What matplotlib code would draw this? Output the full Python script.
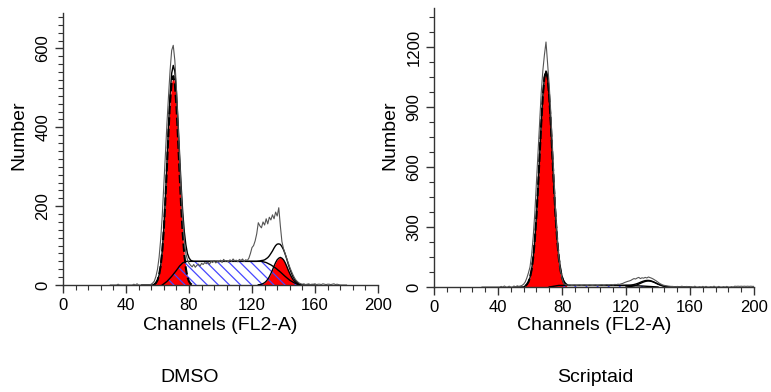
import numpy as np
import matplotlib
matplotlib.use("Agg")
import matplotlib.pyplot as plt
from matplotlib.ticker import MultipleLocator

plt.rcParams['font.family'] = ['Liberation Sans', 'DejaVu Sans']
plt.rcParams['hatch.linewidth'] = 0.9

# ---- DMSO data (counts per channel) ----
dmso_raw_start = 30
dmso_raw = [0, 0, 0, 0, 0, 2, 0, 0, 0, 0,
            0, 0, 0, 0, 0, 2, 0, 3, 0, 0,
            0, 0, 0, 0, 0, 0, 2, 5, 10, 22,
            40, 70, 115, 175, 250, 330, 410, 480, 545, 595,
            608, 570, 500, 415, 325, 240, 170, 115, 80, 64,
            55, 50, 46, 52, 45, 50, 53, 48, 55, 52,
            57, 54, 58, 52, 60, 57, 62, 56, 60, 58,
            63, 57, 65, 60, 62, 58, 64, 60, 66, 61,
            63, 59, 65, 62, 66, 60, 64, 62, 68, 80,
            95, 100, 112, 130, 158, 150, 145, 160, 152, 168,
            155, 172, 165, 178, 168, 185, 175, 196, 150, 110,
            92, 80, 68, 56, 45, 35, 26, 18, 12, 8,
            5, 3, 2, 3, 1, 2, 3, 1, 2, 2,
            3, 1, 2, 2, 1, 3, 2, 1, 2, 2,
            1, 2, 3, 1, 2, 1, 0, 0, 0, 0, 0]

dmso_g1_start = 58
dmso_g1 = [2, 5, 12, 25, 48, 85, 140, 215, 300, 390, 465, 515, 530,
           510, 455, 375, 285, 200, 130, 78, 42, 20, 9, 3, 1]

dmso_s_ch = [63, 66, 69, 72, 74, 76, 78, 126, 129, 132, 135, 138, 141, 144, 147, 150]
dmso_s = [0, 9, 22, 37, 48, 56, 60, 60, 57, 51, 43, 33, 22, 12, 5, 0]

dmso_g2_start = 124
dmso_g2 = [0.5, 1, 2, 3.6, 5.8, 9.5, 14.4, 21, 29, 38, 48, 57, 64, 68, 70,
           68, 64, 57, 48, 38, 29, 21, 14, 9.5, 5.8, 3.6, 2, 1, 0.5]

# ---- Scriptaid data ----
scr_raw_start = 30
scr_raw = [0, 0, 0, 0, 0, 0, 0, 0, 0, 0,
           0, 0, 3, 0, 5, 0, 0, 4, 0, 0,
           5, 0, 6, 3, 5, 8, 14, 25, 45, 70,
           100, 160, 250, 370, 520, 680, 830, 970, 1080, 1160,
           1225, 1120, 1010, 870, 700, 540, 380, 250, 150, 85,
           45, 18, 12, 10, 9, 10, 8, 9, 10, 8,
           9, 10, 8, 9, 10, 9, 8, 10, 9, 8,
           9, 10, 8, 9, 10, 11, 9, 10, 12, 10,
           11, 12, 10, 13, 12, 14, 13, 16, 18, 22,
           25, 28, 30, 33, 38, 42, 40, 45, 48, 42,
           46, 44, 48, 45, 50, 47, 44, 40, 35, 30,
           24, 18, 14, 10, 8, 6, 5, 4, 3, 3,
           2, 0, 3, 0, 2, 4, 0, 0, 3, 0,
           0, 2, 0, 4, 0, 0, 2, 0, 3, 0,
           3, 0, 0, 2, 0, 4, 0, 0, 3, 0,
           0, 2, 0, 3, 0, 0, 2, 0, 4, 3,
           4, 3, 4, 3, 4, 3, 4, 3, 4, 3, 3]

scr_g1_start = 57
scr_g1 = [5, 12, 25, 47, 86, 146, 234, 351, 494, 655, 815, 953, 1047, 1080,
          1047, 953, 815, 655, 494, 351, 234, 146, 86, 47, 25, 12, 5]

scr_s_ch = [72, 78, 120, 130, 140]
scr_s = [0, 8, 8, 5, 0]

scr_g2_start = 120
scr_g2 = [0.6, 1.0, 1.7, 2.7, 4.1, 5.9, 8.3, 11.2, 14.5, 18.2, 21.8, 25.1, 27.7, 29.4, 30,
          29.4, 27.7, 25.1, 21.8, 18.2, 14.5, 11.2, 8.3, 5.9, 4.1, 2.7, 1.7, 1.0, 0.6]

panels = [
    dict(name="DMSO", name_x=190, raw=(dmso_raw_start, dmso_raw), g1=(dmso_g1_start, dmso_g1),
         s=(dmso_s_ch, dmso_s), g2=(dmso_g2_start, dmso_g2), g2_red=True,
         ymax=690, major=200, minor=20, rect=[63, 13, 378, 285]),
    dict(name="Scriptaid", name_x=595, raw=(scr_raw_start, scr_raw), g1=(scr_g1_start, scr_g1),
         s=(scr_s_ch, scr_s), g2=(scr_g2_start, scr_g2), g2_red=False,
         ymax=1395, major=300, minor=75, rect=[434, 8, 754, 287]),
]

W, H = 771, 392
fig = plt.figure(figsize=(W / 100, H / 100), dpi=100)

grid = np.arange(0, 201)

for p in panels:
    x0, y0, x1, y1 = p["rect"]
    ax = fig.add_axes([x0 / W, 1 - y1 / H, (x1 - x0) / W, (y1 - y0) / H])

    rs, rv = p["raw"]
    raw_x = np.arange(rs, rs + len(rv))
    gs, gv = p["g1"]
    g1_x = np.arange(gs, gs + len(gv))
    g2s, g2v = p["g2"]
    g2_x = np.arange(g2s, g2s + len(g2v))
    s_x, s_v = p["s"]

    g1_full = np.interp(grid, g1_x, gv, left=0, right=0)
    s_full = np.interp(grid, s_x, s_v, left=0, right=0)
    g2_full = np.interp(grid, g2_x, g2v, left=0, right=0)
    total = g1_full + s_full + g2_full

    # G1 peak
    ax.fill_between(g1_x, 0, gv, color="#ff0000", lw=0, zorder=2)
    # G2 peak
    if p["g2_red"]:
        ax.fill_between(g2_x, 0, g2v, color="#ff0000", lw=0, zorder=2)
    ax.plot(g2_x, g2v, color="black", lw=1.0, zorder=4)
    # S phase, hatched
    ax.fill_between(s_x, 0, s_v, facecolor="none", edgecolor="#4646ff",
                    hatch="\\\\\\", lw=0, zorder=3)
    ax.plot(s_x, s_v, color="black", lw=1.0, zorder=4)
    # model sum and raw histogram
    m = (grid >= 50) & (grid <= 160)
    ax.plot(grid[m], total[m], color="black", lw=1.0, zorder=5)
    ax.plot(g1_x, gv, color="black", lw=1.5, ls=(0, (4, 1.5)), zorder=5)
    ax.plot(raw_x, rv, color="#555555", lw=0.8, zorder=6)

    ax.set_xlim(0, 200)
    ax.set_ylim(0, p["ymax"])
    for side in ["top", "right"]:
        ax.spines[side].set_visible(False)
    for side in ["left", "bottom"]:
        ax.spines[side].set_linewidth(1.0)
        ax.spines[side].set_color("#333333")
    ax.xaxis.set_major_locator(MultipleLocator(40))
    ax.xaxis.set_minor_locator(MultipleLocator(8))
    ax.yaxis.set_major_locator(MultipleLocator(p["major"]))
    ax.yaxis.set_minor_locator(MultipleLocator(p["minor"]))
    ax.tick_params(which="major", length=6, width=1.0, color="#333333",
                   labelsize=12, pad=3)
    ax.tick_params(which="minor", length=3.5, width=0.8, color="#333333")
    for lab in ax.get_yticklabels():
        lab.set_rotation(90)
        lab.set_va("center")

    cx = (x0 + x1) / 2
    fig.text(cx / W, 1 - 326 / H, "Channels (FL2-A)", ha="center", va="center", fontsize=14)
    fig.text(p["name_x"] / W, 1 - 378 / H, p["name"], ha="center", va="center", fontsize=14)
    fig.text((x0 - 44) / W, 1 - 135 / H, "Number", ha="center", va="center",
             rotation=90, fontsize=14)

fig.savefig("out.png", dpi=100)
